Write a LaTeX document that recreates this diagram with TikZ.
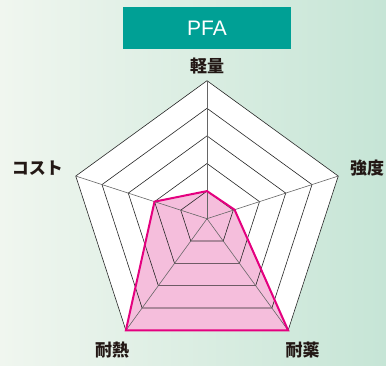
\documentclass[tikz,border=0pt]{standalone}
\usepackage{fontspec}
\setmainfont{Liberation Sans}
\newfontfamily\jpfont{Noto Sans CJK JP}
\usepackage{tikz}
\usetikzlibrary{
	positioning,
	calc
}

\definecolor{titleteal}{HTML}{00A095}
\definecolor{chartpink}{HTML}{F5BEDC}
\definecolor{chartmagenta}{HTML}{E4007F}
\definecolor{labelink}{HTML}{231815}
\definecolor{bgleft}{HTML}{F0F6EF}
\definecolor{bgright}{HTML}{C6E5D6}

\tikzset{
	axislabel/.style={font=\jpfont\bfseries\fontsize{17}{17}\selectfont,text=labelink,inner sep=0pt},
	ring/.style={draw=black!85,line width=0.6pt},
	spoke/.style={draw=black!60,line width=0.6pt}
}

\begin{document}
\begin{tikzpicture}[x=1pt,y=1pt]
		% background
		\shade[left color=bgleft,right color=bgright] (0,0) rectangle (386,365);
		\useasboundingbox (0,0) rectangle (386,365);

		\coordinate (c) at (207,146.3);

		% outer pentagon
		\fill[white] ($(c)+(90:138)$) -- ($(c)+(18:138)$) -- ($(c)+(-54:138)$)
			-- ($(c)+(-126:138)$) -- ($(c)+(162:138)$) -- cycle;

		% data area
		\fill[chartpink] ($(c)+(90:27.6)$) -- ($(c)+(18:29)$) -- ($(c)+(-54:138)$)
			-- ($(c)+(-126:138)$) -- ($(c)+(162:55.2)$) -- cycle;

		% rings
		\foreach \r in {27.6,55.2,82.8,110.4,138}
			\draw[ring] ($(c)+(90:\r)$) -- ($(c)+(18:\r)$) -- ($(c)+(-54:\r)$)
				-- ($(c)+(-126:\r)$) -- ($(c)+(162:\r)$) -- cycle;

		% spokes
		\foreach \a in {90,18,-54,-126,162}
			\draw[spoke] (c) -- ($(c)+(\a:138)$);

		% data outline
		\draw[chartmagenta,line width=2pt,line join=miter]
			($(c)+(90:27.6)$) -- ($(c)+(18:29)$) -- ($(c)+(-54:138)$)
			-- ($(c)+(-126:138)$) -- ($(c)+(162:55.2)$) -- cycle;

		% title
		\node[fill=titleteal,text=white,minimum width=167.4pt,minimum height=41.7pt,
			font=\fontsize{21}{21}\selectfont] (title) at (207,336.8) {PFA};

		% axis labels
		\node[axislabel] (light)  at (207,299)  {軽量};
		\node[axislabel] (strong) at (367,197)  {強度};
		\node[axislabel] (chem)   at (302.5,15) {耐薬};
		\node[axislabel] (heat)   at (112,15)   {耐熱};
		\node[axislabel] (cost)   at (37.5,197) {コスト};
	\end{tikzpicture}
\end{document}
